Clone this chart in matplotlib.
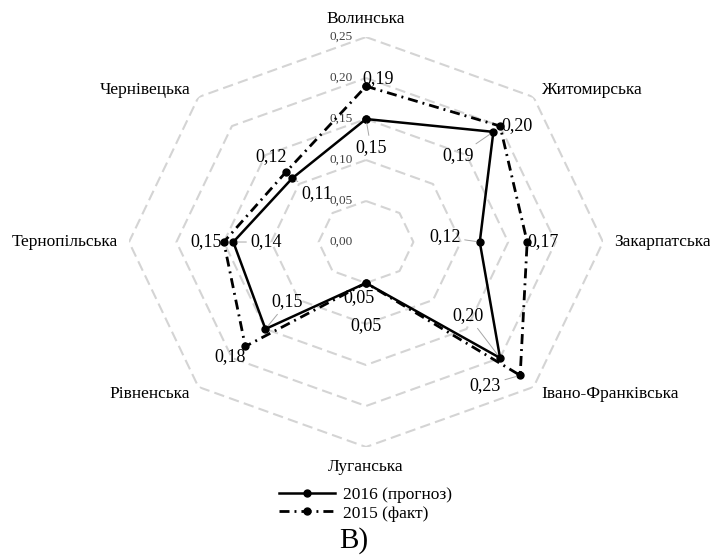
import numpy as np
import matplotlib
matplotlib.use('Agg')
import matplotlib.pyplot as plt

plt.rcParams['font.family'] = ['Liberation Serif', 'DejaVu Serif']

# Дані
categories = ['Волинська', 'Житомирська', 'Закарпатська', 'Івано-Франківська',
              'Луганська', 'Рівненська', 'Тернопільська', 'Чернівецька']
forecast_2016 = [0.15, 0.19, 0.12, 0.20, 0.05, 0.15, 0.14, 0.11]
fact_2015 = [0.19, 0.20, 0.17, 0.23, 0.05, 0.18, 0.15, 0.12]
radial_ticks = [0.00, 0.05, 0.10, 0.15, 0.20, 0.25]
series_names = ['2016 (прогноз)', '2015 (факт)']
panel_letter = 'В)'

# зсуви підписів (пікселі, y вниз) і чи є лінія-виноска
off_2016 = [(5, 29), (-35, 24), (-35, -5), (-32, -42), (-7, 15), (22, -27), (33, 0), (25, 15)]
lead_2016 = [True, True, True, True, False, True, True, True]
off_2015 = [(12, -8), (17, 0), (16, 0), (-35, 10), (0, 43), (-15, 10), (-18, 0), (-14, -16)]
lead_2015 = [False, False, False, True, False, False, False, False]

n = len(categories)
angles = np.arange(n) * 2 * np.pi / n
closed = np.append(angles, angles[0])

fig = plt.figure(figsize=(7.1, 5.57), dpi=100)
ax = fig.add_axes([0.1817, 0.1975, 0.6676, 0.736], projection='polar')
ax.set_aspect('auto')
ax.set_theta_offset(np.pi / 2)
ax.set_theta_direction(-1)
ax.set_ylim(0, 0.25)
ax.grid(False)
ax.spines['polar'].set_visible(False)
ax.set_xticks([])
ax.set_yticks([])
ax.patch.set_alpha(0)

# сітка-восьмикутники
for r in radial_ticks[1:]:
    ax.plot(closed, [r] * (n + 1), color='#d4d4d4', lw=1.5,
            linestyle=(0, (5, 2.5)), zorder=1)

for r in radial_ticks:
    ax.annotate(f'{r:.2f}'.replace('.', ','), xy=(0, r), xytext=(-13, 0),
                textcoords='offset pixels', ha='right', va='center',
                fontsize=9.5, color='#404040', zorder=2)

l1, = ax.plot(closed, forecast_2016 + forecast_2016[:1], color='black', lw=1.8,
              marker='o', markersize=5, zorder=4, label=series_names[0])
l2, = ax.plot(closed, fact_2015 + fact_2015[:1], color='black', lw=2.0,
              linestyle=(0, (3.6, 1.8, 0.7, 1.8)), marker='o', markersize=5,
              zorder=3, label=series_names[1])


def put_labels(values, offsets, leaders):
    for a, v, (dx, dy), lead in zip(angles, values, offsets, leaders):
        kw = {}
        if lead:
            kw['arrowprops'] = dict(arrowstyle='-', color='#a6a6a6', lw=0.7,
                                    shrinkA=1, shrinkB=3)
        ax.annotate(f'{v:.2f}'.replace('.', ','), xy=(a, v), xytext=(dx, -dy),
                    textcoords='offset pixels', ha='center', va='center',
                    fontsize=13, color='black', zorder=5, **kw)


put_labels(forecast_2016, off_2016, lead_2016)
put_labels(fact_2015, off_2015, lead_2015)

# назви областей
fs_cat = 12.5
for a, name in zip(angles, categories):
    deg = np.degrees(a) % 360
    if deg == 0:
        ax.text(a, 0.262, name, ha='center', va='bottom', fontsize=fs_cat)
    elif deg == 180:
        ax.text(a, 0.274, name, ha='center', va='center', fontsize=fs_cat)
    elif deg < 180:
        ax.text(a, 0.262, name, ha='left', va='center', fontsize=fs_cat)
    else:
        ax.text(a, 0.262, name, ha='right', va='center', fontsize=fs_cat)

fig.legend(handles=[l1, l2], loc='center', bbox_to_anchor=(0.515, 0.095),
           frameon=False, fontsize=12.5, handlelength=3.2, handletextpad=0.5,
           labelspacing=0.15, numpoints=1)

fig.text(0.498, 0.03, panel_letter, ha='center', va='center', fontsize=21)

fig.savefig('out.png', dpi=100)
